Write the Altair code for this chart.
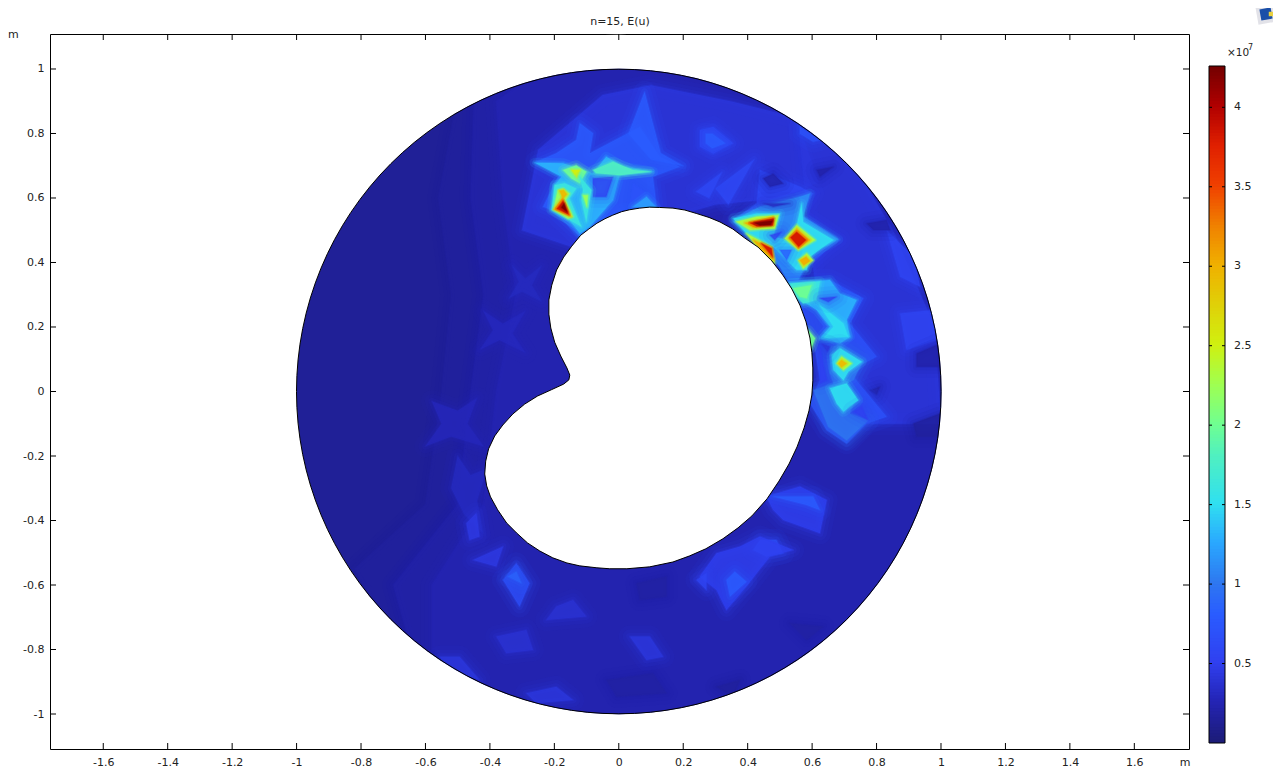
import altair as alt

# ---- readings from the picture (metres, and E(u) in units of 1e7) ----
x_ticks = [-1.6, -1.4, -1.2, -1, -0.8, -0.6, -0.4, -0.2, 0, 0.2, 0.4, 0.6, 0.8, 1, 1.2, 1.4, 1.6]
y_ticks = [-1, -0.8, -0.6, -0.4, -0.2, 0, 0.2, 0.4, 0.6, 0.8, 1]
bar_ticks = [0.5, 1, 1.5, 2, 2.5, 3, 3.5, 4]
bar_labels = ["0.5", "1", "1.5", "2", "2.5", "3", "3.5", "4"]
bar_top = 4.26
color_stops = [0, 0.25, 0.5, 0.8, 1, 1.25, 1.5, 1.8, 2, 2.25, 2.5, 3, 3.25, 3.5, 3.75, 4, 4.26]
color_values = ["#1c1c78", "#2424b4", "#3040f0", "#2a5cff", "#2e78f0", "#2aa8ff", "#30e0f0", "#50f0c0",
                "#70ff90", "#a0ff50", "#d0f010", "#f0b000", "#f08000", "#f04000", "#e02000", "#b00000", "#700000"]
background_value = 0.13

hole_outline = [
    (-.068,.522),(-.043,.536),(-.019,.547),(.009,.558),(.034,.564),(.065,.569),(.096,.572),(.127,.571),
    (.168,.569),(.205,.563),(.242,.552),(.280,.540),(.314,.526),(.354,.504),(.391,.476),(.432,.448),
    (.475,.405),(.509,.361),(.537,.318),(.562,.268),(.581,.216),(.593,.166),(.599,.122),(.602,.073),
    (.602,.033),(.599,-.011),(.590,-.060),(.575,-.113),(.553,-.172),(.528,-.225),(.497,-.278),(.460,-.333),
    (.413,-.386),(.370,-.423),(.323,-.457),(.270,-.488),(.220,-.510),(.168,-.529),(.096,-.544),(.025,-.550),
    (-.028,-.550),(-.068,-.547),(-.121,-.541),(-.161,-.532),(-.205,-.516),(-.245,-.495),(-.283,-.470),
    (-.317,-.439),(-.348,-.408),(-.376,-.367),(-.398,-.327),(-.410,-.293),(-.416,-.256),(-.413,-.216),
    (-.404,-.178),(-.385,-.138),(-.360,-.104),(-.329,-.070),(-.292,-.039),(-.252,-.014),(-.208,.006),
    (-.171,.023),(-.155,.036),(-.152,.051),(-.161,.073),(-.180,.110),(-.199,.153),(-.211,.197),(-.217,.240),
    (-.217,.284),(-.208,.330),(-.193,.377),(-.171,.417),(-.146,.451),(-.118,.485),(-.093,.504),(-.068,.522),
]

# broad low-level regions of the field, drawn first
field_low = [
    (.16, [(-.5,.92),(-.2,1.03),(.3,1.02),(.75,.75),(1.0,.35),(1.05,0),(1.0,-.35),(.75,-.75),(.3,-1.02),(-.3,-1.02),(-.7,-.78),(-.82,-.55),(-.6,-.35),(-.55,0),(-.52,.3),(-.56,.6)]),
    (.2,  [(-.45,.9),(-.2,1.03),(.3,1.02),(.75,.75),(1.0,.35),(1.05,0),(1.0,-.35),(.75,-.75),(.3,-1.02),(-.3,-1.02),(-.65,-.78),(-.7,-.6),(-.5,-.35),(-.46,0),(-.42,.3),(-.46,.6)]),
    (.24, [(-.38,.9),(-.2,1.03),(.3,1.02),(.75,.75),(1.0,.35),(1.05,0),(1.0,-.35),(.75,-.75),(.3,-1.02),(-.3,-1.02),(-.58,-.8),(-.58,-.6),(-.42,-.35),(-.38,0),(-.32,.3),(-.36,.6)]),
    (.28, [(-.58,-.03),(-.5,-.06),(-.44,-.02),(-.47,-.1),(-.42,-.17),(-.52,-.14),(-.6,-.17),(-.55,-.1)]),
    (.3,  [(-.5,-.2),(-.46,-.26),(-.41,-.24),(-.44,-.34),(-.42,-.44),(-.48,-.38),(-.52,-.3)]),
    (.29, [(-.42,.25),(-.36,.21),(-.29,.25),(-.33,.18),(-.29,.12),(-.37,.16),(-.43,.13),(-.39,.19)]),
    (.3,  [(-.33,.39),(-.29,.35),(-.24,.39),(-.27,.33),(-.24,.28),(-.3,.31),(-.34,.29),(-.31,.34)]),
    (.42, [(-.25,.75),(-.05,.92),(.1,.95),(.35,.9),(.55,.85),(.62,.65),(.5,.6),(.3,.58),(-.15,.45),(-.3,.5)]),
    (.42, [(.55,.9),(.72,.72),(.85,.5),(.98,.2),(1.0,-.1),(.75,-.1),(.65,.1),(.6,.4)]),
    (.55, [(.252,.811),(.293,.821),(.355,.770),(.293,.738),(.252,.759)]),
    (.8,  [(.27,.80),(.29,.80),(.33,.77),(.29,.755),(.27,.77)]),
    (.6,  [(.42,.72),(.34,.58),(.3,.63)]),
    (.6,  [(.32,.68),(.24,.62),(.28,.60)]),
    (.7,  [(.562,.821),(.624,.780),(.603,.775),(.562,.800)]),
    (.55, [(.831,.501),(.914,.418),(.935,.325),(.873,.356)]),
    (.2,  [(.769,.521),(.831,.532),(.842,.501),(.790,.501)]),
    (.55, [(.873,.242),(.976,.253),(.986,.160),(.893,.129)]),
    (.2,  [(.924,.118),(.997,.149),(.997,.077),(.924,.077)]),
    (.15, [(.914,-.099),(.997,-.068),(.986,-.140),(.924,-.140)]),
    (.2,  [(.779,.004),(.810,.015),(.800,-.011)]),
    # bottom of the ring
    (.5,  [(.458,-.326),(.562,-.295),(.645,-.337),(.624,-.440),(.510,-.399),(.479,-.368)]),
    (.8,  [(.479,-.326),(.603,-.326),(.624,-.368),(.583,-.352)]),
    (.7,  [(.438,-.461),(.489,-.461),(.510,-.502),(.458,-.512),(.417,-.492)]),
    (.5,  [(.251,-.574),(.303,-.502),(.376,-.481),(.438,-.450),(.541,-.492),(.469,-.512),(.396,-.605),(.334,-.678),(.303,-.616)]),
    (.8,  [(.334,-.585),(.360,-.559),(.396,-.590),(.345,-.636)]),
    (.55, [(.241,-.585),(.272,-.564),(.272,-.616)]),
    (.65, [(-.359,-.585),(-.318,-.533),(-.277,-.595),(-.308,-.667)]),
    (.85, [(-.344,-.574),(-.318,-.559),(-.302,-.595)]),
    (.45, [(-.473,-.409),(-.442,-.378),(-.432,-.450),(-.463,-.461)]),
    (.45, [(-.452,-.523),(-.359,-.481),(-.380,-.543)]),
    (.38, [(-.380,-.760),(-.287,-.740),(-.266,-.802),(-.349,-.812)]),
    (.38, [(-.194,-.667),(-.142,-.647),(-.101,-.698),(-.225,-.709)]),
    (.42, [(.034,-.760),(.096,-.760),(.138,-.823),(.086,-.833)]),
    (.42, [(-.287,-.936),(-.194,-.916),(-.142,-.957),(-.256,-.967)]),
    (.42, [(-.556,-.823),(-.494,-.823),(-.432,-.895),(-.525,-.864)]),
    (.18, [(.055,-.595),(.148,-.574),(.148,-.636),(.065,-.647)]),
    (.18, [(.531,-.719),(.634,-.729),(.583,-.771)]),
    (.18, [(-.038,-.895),(.106,-.874),(.148,-.936),(-.007,-.947)]),
    (.15, [(.303,-.916),(.376,-.895),(.355,-.947)]),
]

# upper-left hot area, lowest level first
field_upper_left = [
    (.8,  [(-.256,.713),(-.194,.739),(-.132,.780),(-.121,.832),(-.080,.801),(-.090,.739),(.065,.821),(.127,.728),(.189,.697),(.106,.666),(.117,.573),(.013,.563),(-.070,.521),(-.121,.480),(-.153,.511),(-.209,.563),(-.235,.573),(-.199,.646),(-.184,.671)]),
    (.8,  [(.08,.93),(.13,.74),(.2,.70),(.1,.72),(.03,.8)]),
    (1.3, [(-.261,.710),(-.173,.708),(-.080,.677),(-.039,.728),(.013,.697),(.106,.682),(.003,.671),(-.018,.594),(-.090,.511),(-.121,.490),(-.153,.532),(-.204,.563),(-.199,.640),(-.178,.666)]),
    (.5,  [(-.080,.661),(-.018,.666),(-.039,.604),(-.080,.604)]),
    (.7,  [(.044,.646),(.096,.609),(.034,.583)]),
    (1.8, [(-.080,.687),(-.018,.713),(.044,.687),(.096,.682),(.003,.671),(-.070,.677)]),
    (2.0, [(-.173,.687),(-.132,.702),(-.101,.682),(-.121,.646),(-.147,.661)]),
    (2.5, [(-.147,.687),(-.121,.687),(-.130,.664)]),
    (1.6, [(-.199,.640),(-.168,.646),(-.132,.630),(-.153,.599),(-.116,.511),(-.153,.532),(-.209,.563)]),
    (2.2, [(-.189,.625),(-.173,.630),(-.153,.614),(-.165,.594),(-.142,.542),(-.158,.537),(-.202,.565)]),
    (2.9, [(-.184,.623),(-.171,.625),(-.161,.612),(-.173,.599)]),
    (3.0, [(-.202,.565),(-.175,.602),(-.148,.542)]),
    (3.8, [(-.192,.567),(-.173,.592),(-.155,.549)]),
    (4.2, [(-.178,.571),(-.170,.583),(-.161,.558)]),
    (1.6, [(-.121,.666),(-.085,.625),(-.090,.594),(-.101,.527),(-.116,.594),(-.111,.625)]),
    (2.2, [(-.111,.609),(-.096,.609),(-.099,.573)]),
    (1.2, [(.044,.573),(.086,.604),(.117,.571)]),
]

# upper-right hot area
field_upper_right = [
    (.6,  [(.438,.687),(.562,.635),(.603,.614),(.562,.552),(.686,.470),(.645,.439),(.572,.371),(.541,.315),(.510,.377),(.355,.532),(.428,.583)]),
    (1.1, [(.396,.552),(.438,.573),(.562,.604),(.593,.614),(.572,.542),(.681,.472),(.650,.454),(.609,.439),(.572,.377),(.541,.315),(.500,.387),(.459,.439),(.355,.527)]),
    (.3,  [(.448,.583),(.531,.583),(.479,.573)]),
    (.2,  [(.448,.661),(.479,.676),(.510,.645),(.469,.635)]),
    (.2,  [(.614,.687),(.666,.697),(.624,.666)]),
    (1.5, [(.355,.537),(.428,.552),(.500,.552),(.479,.480),(.521,.470),(.552,.516),(.567,.583),(.572,.526),(.666,.470),(.635,.449),(.593,.418),(.583,.377),(.552,.377),(.479,.449),(.396,.490)]),
    (.5,  [(.469,.485),(.505,.495),(.484,.470)]),
    (.8,  [(.500,.439),(.536,.439),(.521,.407)]),
    (2.3, [(.365,.527),(.428,.542),(.495,.547),(.484,.506),(.407,.501)]),
    (2.3, [(.515,.475),(.552,.516),(.609,.470),(.557,.439)]),
    (2.3, [(.557,.407),(.583,.428),(.603,.407),(.572,.382)]),
    (2.3, [(.396,.490),(.474,.449),(.484,.397),(.428,.449)]),
    (3.0, [(.391,.523),(.479,.542),(.481,.516),(.417,.509)]),
    (3.0, [(.526,.475),(.552,.506),(.593,.470),(.557,.444)]),
    (3.0, [(.562,.407),(.581,.418),(.593,.405),(.574,.392)]),
    (3.0, [(.417,.470),(.474,.444),(.481,.407),(.443,.439)]),
    (3.8, [(.407,.523),(.481,.537),(.477,.516),(.428,.513)]),
    (3.8, [(.533,.478),(.552,.495),(.581,.470),(.558,.449)]),
    (3.8, [(.443,.459),(.474,.444),(.477,.418)]),
    (4.2, [(.422,.523),(.477,.530),(.471,.517),(.438,.516)]),
]

# right-hand strand
field_right = [
    (.7,  [(.521,.346),(.655,.346),(.759,.289),(.717,.211),(.800,.108),(.759,.087),(.728,.046),(.831,-.078),(.769,-.099),(.707,-.161),(.645,-.120),(.593,-.037),(.624,.036),(.604,.160)]),
    (1.3, [(.531,.335),(.655,.346),(.686,.304),(.738,.284),(.707,.222),(.717,.170),(.686,.149),(.624,.165),(.655,.201),(.614,.253),(.583,.273)]),
    (1.6, [(.531,.335),(.624,.341),(.614,.284),(.572,.273),(.552,.294)]),
    (2.0, [(.541,.320),(.598,.330),(.583,.289),(.562,.294)]),
    (1.5, [(.619,.273),(.697,.211),(.712,.170),(.635,.165),(.666,.201)]),
    (.5,  [(.624,.289),(.676,.294),(.650,.278)]),
    (1.0, [(.655,.139),(.686,.144),(.759,.098),(.728,.036),(.686,.015),(.733,-.027),(.717,-.068),(.774,-.089),(.707,-.151),(.650,-.109),(.604,.004),(.666,.025),(.655,.056)]),
    (1.5, [(.660,.113),(.686,.134),(.754,.092),(.712,.061),(.697,.035),(.666,.067)]),
    (1.5, [(.655,.010),(.707,.025),(.743,-.027),(.697,-.063),(.676,-.037)]),
    (2.3, [(.676,.087),(.691,.108),(.722,.087),(.697,.067)]),
    (2.9, [(.681,.087),(.691,.098),(.707,.087),(.691,.075)]),
    (.4,  [(.629,.149),(.655,.139),(.647,.123)]),
    (.5,  [(.624,.134),(.645,.036),(.624,.025)]),
    (.5,  [(.728,-.063),(.754,-.047),(.774,-.089)]),
    (2.0, [(.588,.191),(.609,.165),(.598,.134)]),
]

title_text = "n=15, E(u)"
exponent_base = "\u00d710"
exponent_power = "7"
unit_text = "m"

# ---- layout of the frame ----
W, H = 1139, 715
X_DOMAIN = [-1.7653, 1.7697]
Y_DOMAIN = [-1.1085, 1.1085]
RADIUS_PX = 322.3
FONT = "DejaVu Sans"
TEXT = "#222222"
TICK = 6
BAR_LEFT, BAR_RIGHT = 1159, 1175

sx = alt.Scale(domain=X_DOMAIN, nice=False, zero=False)
sy = alt.Scale(domain=Y_DOMAIN, nice=False, zero=False)
sc = alt.Scale(domain=color_stops, range=color_values, interpolate="rgb")
bar_scale = alt.Scale(domain=[0, bar_top], range=[709, 32], nice=False, zero=False)
x_axis = alt.Axis(
    values=x_ticks, labelExpr="toString(datum.value)", ticks=False, domain=False, grid=False, title=None,
    labelFont=FONT, labelFontSize=11, labelColor=TEXT, labelPadding=7, labelOverlap=False, labelFlush=False)
y_axis = alt.Axis(
    values=y_ticks, labelExpr="toString(datum.value)", ticks=False, domain=False, grid=False, title=None,
    labelFont=FONT, labelFontSize=11, labelColor=TEXT, labelPadding=6, labelOverlap=False, labelFlush=False)


def softness(v):
    """Edge softening of a patch: (stroke width, stroke opacity, fill opacity) passes."""
    if v <= 1.0:
        return [(22, .07, 0), (14, .10, 0), (7, .16, 0), (2, .3, .8)]
    if v <= 2.0:
        return [(10, .12, 0), (5, .2, 0), (2, .35, .92)]
    return [(4, .25, 0), (1.5, .45, 1)]


features = []
for v, ring in field_low + field_upper_left + field_upper_right + field_right:
    closed = [list(p) for p in ring] + [list(ring[0])]
    for w, so, fo in softness(v):
        features.append({
            "type": "Feature",
            "properties": {"v": v, "w": w, "so": so, "fo": fo},
            "geometry": {"type": "Polygon", "coordinates": [closed]},
        })

projection = dict(type="identity", scale=322.3, translate=[568.8, 357.5], reflectY=True)

centre = alt.Data(values=[{"x": 0, "y": 0, "v": background_value}])

disc = alt.Chart(centre).mark_circle(opacity=1, size=(2 * RADIUS_PX) ** 2).encode(
    x=alt.X("x:Q", scale=sx, axis=x_axis),
    y=alt.Y("y:Q", scale=sy, axis=y_axis),
    color=alt.Color("v:Q", scale=sc, legend=None),
)

patches = alt.Chart(alt.InlineData(
    values={"type": "FeatureCollection", "features": features},
    format=alt.DataFormat(property="features", type="json"),
)).mark_geoshape(filled=True, strokeJoin="round").encode(
    color=alt.Color("properties.v:Q", scale=sc, legend=None),
    stroke=alt.Stroke("properties.v:Q", scale=sc, legend=None),
    strokeWidth=alt.StrokeWidth("properties.w:Q", scale=None),
    strokeOpacity=alt.StrokeOpacity("properties.so:Q", scale=None),
    fillOpacity=alt.FillOpacity("properties.fo:Q", scale=None),
).project(**projection)

mask = alt.Chart(centre).mark_point(
    filled=False, shape="circle", stroke="white", strokeWidth=34, opacity=1, size=(2 * (RADIUS_PX + 17.4)) ** 2
).encode(x=alt.X("x:Q", scale=sx, axis=x_axis), y=alt.Y("y:Q", scale=sy, axis=None))

outline = alt.Chart(centre).mark_point(
    filled=False, shape="circle", stroke="black", strokeWidth=1, opacity=1, size=(2 * RADIUS_PX) ** 2
).encode(x=alt.X("x:Q", scale=sx, axis=x_axis), y=alt.Y("y:Q", scale=sy, axis=None))

hole = alt.Chart(alt.InlineData(
    values={"type": "FeatureCollection", "features": [{
        "type": "Feature", "properties": {},
        "geometry": {"type": "Polygon", "coordinates": [[list(p) for p in hole_outline]]},
    }]},
    format=alt.DataFormat(property="features", type="json"),
)).mark_geoshape(filled=True, fill="white", stroke="black", strokeWidth=1, strokeJoin="round").project(**projection)

# colour bar: the same colour scale, drawn on its own value scale
bar_rows = [{"lo": i * 0.02, "hi": min(bar_top, i * 0.02 + 0.03)} for i in range(int(bar_top / 0.02) + 1)]
bar = alt.Chart(alt.Data(values=bar_rows)).mark_rect().encode(
    y=alt.Y("lo:Q", scale=bar_scale, axis=None), y2="hi:Q",
    x=alt.value(BAR_LEFT), x2=alt.value(BAR_RIGHT),
    color=alt.Color("lo:Q", scale=sc, legend=None),
)
bar_frame = alt.Chart(alt.Data(values=[{"lo": 0, "hi": bar_top}])).mark_rect(
    filled=False, stroke="black", strokeWidth=1, fillOpacity=0
).encode(
    y=alt.Y("lo:Q", scale=bar_scale, axis=None), y2="hi:Q",
    x=alt.value(BAR_LEFT), x2=alt.value(BAR_RIGHT),
)
bar_text = alt.Chart(alt.Data(values=[{"t": t, "s": s} for t, s in zip(bar_ticks, bar_labels)])).mark_text(
    font=FONT, fontSize=11, color=TEXT, align="left", baseline="middle"
).encode(y=alt.Y("t:Q", scale=bar_scale, axis=None), x=alt.value(1184), text="s:N")


def x_tick_rules(y0, y1):
    return alt.Chart(alt.Data(values=[{"t": t} for t in x_ticks])).mark_rule(color="black", strokeWidth=1).encode(
        x=alt.X("t:Q", scale=sx, axis=x_axis), y=alt.value(y0), y2=alt.value(y1))


def y_tick_rules(x0, x1):
    return alt.Chart(alt.Data(values=[{"t": t} for t in y_ticks])).mark_rule(color="black", strokeWidth=1).encode(
        y=alt.Y("t:Q", scale=sy, axis=None), x=alt.value(x0), x2=alt.value(x1))


def bar_tick_rules(x0, x1):
    return alt.Chart(alt.Data(values=[{"t": t} for t in bar_ticks])).mark_rule(color="black", strokeWidth=1).encode(
        y=alt.Y("t:Q", scale=bar_scale, axis=None), x=alt.value(x0), x2=alt.value(x1))


def label(text, px, py, size=11, align="left"):
    return alt.Chart(alt.Data(values=[{"s": text}])).mark_text(
        font=FONT, fontSize=size, color=TEXT, align=align, baseline="middle"
    ).encode(text="s:N", x=alt.value(px), y=alt.value(py))


def badge(px, py, size, fill, angle=0):
    return alt.Chart(alt.Data(values=[{"s": 1}])).mark_point(
        shape="square", filled=True, fill=fill, opacity=1, size=size, angle=angle
    ).encode(x=alt.value(px), y=alt.value(py))


chart = alt.layer(
    disc, patches, mask, outline, hole,
    x_tick_rules(H, H - TICK), x_tick_rules(0, TICK),
    y_tick_rules(0, TICK), y_tick_rules(W, W - TICK),
    bar, bar_frame, bar_tick_rules(BAR_LEFT, BAR_LEFT + 3), bar_tick_rules(BAR_RIGHT - 3, BAR_RIGHT), bar_text,
    label(title_text, 570, -12, align="center"),
    label(unit_text, -42, 1),
    label(unit_text, 1135, 729, align="center"),
    label(exponent_base, 1177, 19, size=10.5),
    label(exponent_power, 1198, 14, size=8),
    badge(1216, -20, 340, "#e2e2e8", 350), badge(1216, -20, 130, "#1a4fa8", 350), badge(1221, -20, 20, "#e8d040"),
).resolve_scale(y="independent").properties(
    width=W, height=H,
    autosize=alt.AutoSizeParams(type="none"),
    padding={"left": 42, "top": 26, "right": 84, "bottom": 22},
).configure_view(stroke="black", strokeWidth=1)

chart.save("out.html", embed_options={"renderer": "svg", "actions": False})
